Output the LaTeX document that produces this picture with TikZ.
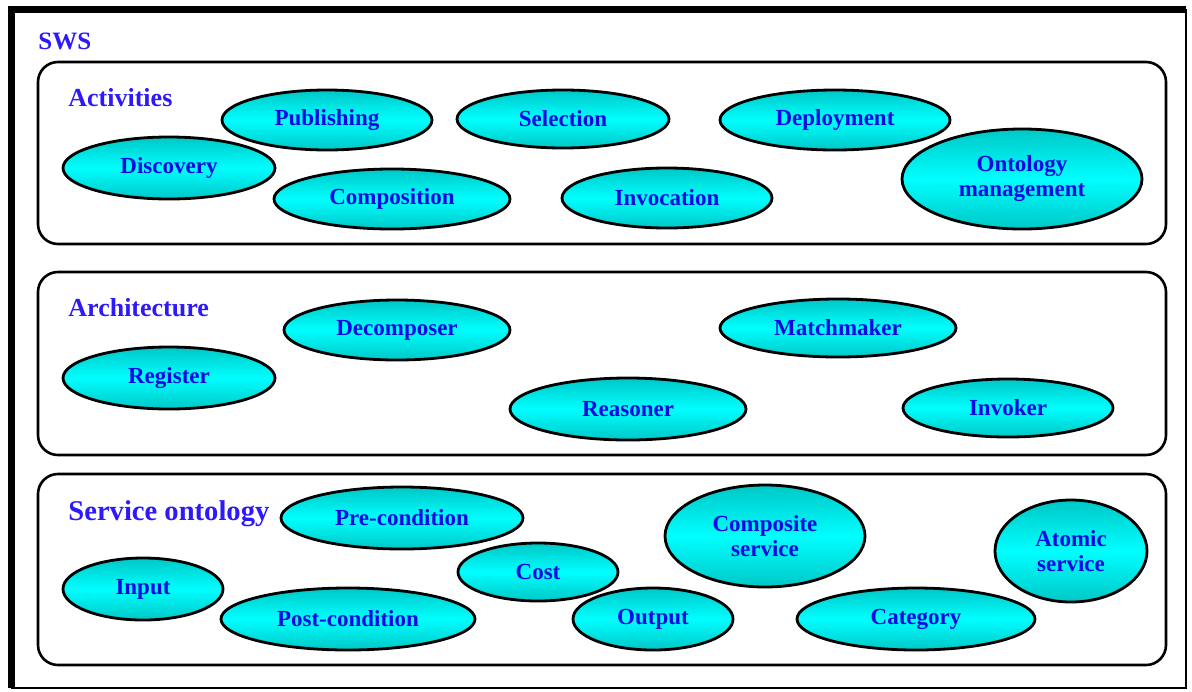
\documentclass[tikz,border=0pt]{standalone}
\usepackage{fontspec}
\setmainfont{Liberation Serif}
\usetikzlibrary{shapes.geometric}
\definecolor{titleblue}{RGB}{45,25,250}
\definecolor{ovaltext}{RGB}{10,10,225}
\tikzset{
  oval/.style 2 args={draw=black, line width=1.4pt, ellipse, inner sep=0pt,
    minimum width=#1pt, minimum height=#2pt,
    top color=cyan!78!black, bottom color=cyan!78!black, middle color=cyan,
    text=ovaltext, align=center,
    font=\fontsize{11.5}{12.5}\selectfont\bfseries},
  panel/.style={draw=black, line width=1.3pt, rounded corners=10pt},
  title/.style={anchor=west, inner sep=0pt, text=titleblue,
    font=\fontsize{13}{15}\selectfont\bfseries}
}
\begin{document}
\begin{tikzpicture}[x=0.5pt, y=-0.5pt]
			\useasboundingbox (0,0) rectangle (1192,691);
			% Рамка
			\draw[line width=3.5pt] (11,688) -- (11,9) -- (1186,9);
			\draw[line width=1pt] (1186,9) -- (1186,688) -- (11,688);
			\node[title, font=\fontsize{12.5}{15}\selectfont\bfseries] (sws) at (38,41) {SWS};

			% Activities
			\draw[panel] (38,62) rectangle (1166,244);
			\node[title] (act) at (68,98) {Activities};
			\node[oval={105}{30}] (publ) at (327,120) {Publishing};
			\node[oval={106}{29}] (sel) at (563,119) {Selection};
			\node[oval={115}{30}] (depl) at (835,120) {Deployment};
			\node[oval={106}{31}] (disc) at (169,168) {Discovery};
			\node[oval={118}{30}] (comp) at (392,199) {Composition};
			\node[oval={105}{30}] (invoc) at (667,198) {Invocation};
			\node[oval={120}{50}] (ontman) at (1022,179) {Ontology\\management};

			% Architecture
			\draw[panel] (38,272) rectangle (1166,455);
			\node[title] (arch) at (68,308) {Architecture};
			\node[oval={113}{30}] (decomp) at (397,330) {Decomposer};
			\node[oval={118}{29}] (match) at (838,328) {Matchmaker};
			\node[oval={106}{31}] (reg) at (169,378) {Register};
			\node[oval={118}{31}] (reas) at (628,409) {Reasoner};
			\node[oval={105}{29}] (invk) at (1008,408) {Invoker};

			% Service ontology
			\draw[panel] (38,474) rectangle (1166,665);
			\node[title, font=\fontsize{14.3}{16}\selectfont\bfseries] (servont) at (68,514) {Service ontology};
			\node[oval={121}{31}] (pre) at (402,518) {Pre-condition};
			\node[oval={100}{51}] (compserv) at (765,536) {Composite\\service};
			\node[oval={76}{51}] (atserv) at (1071,551) {Atomic\\service};
			\node[oval={80}{29}] (cost) at (538,572) {Cost};
			\node[oval={80}{31}] (inp) at (143,589) {Input};
			\node[oval={127}{31}] (post) at (348,619) {Post-condition};
			\node[oval={80}{31}] (outp) at (653,619) {Output};
			\node[oval={119}{31}] (cat) at (916,619) {Category};
\end{tikzpicture}
\end{document}
